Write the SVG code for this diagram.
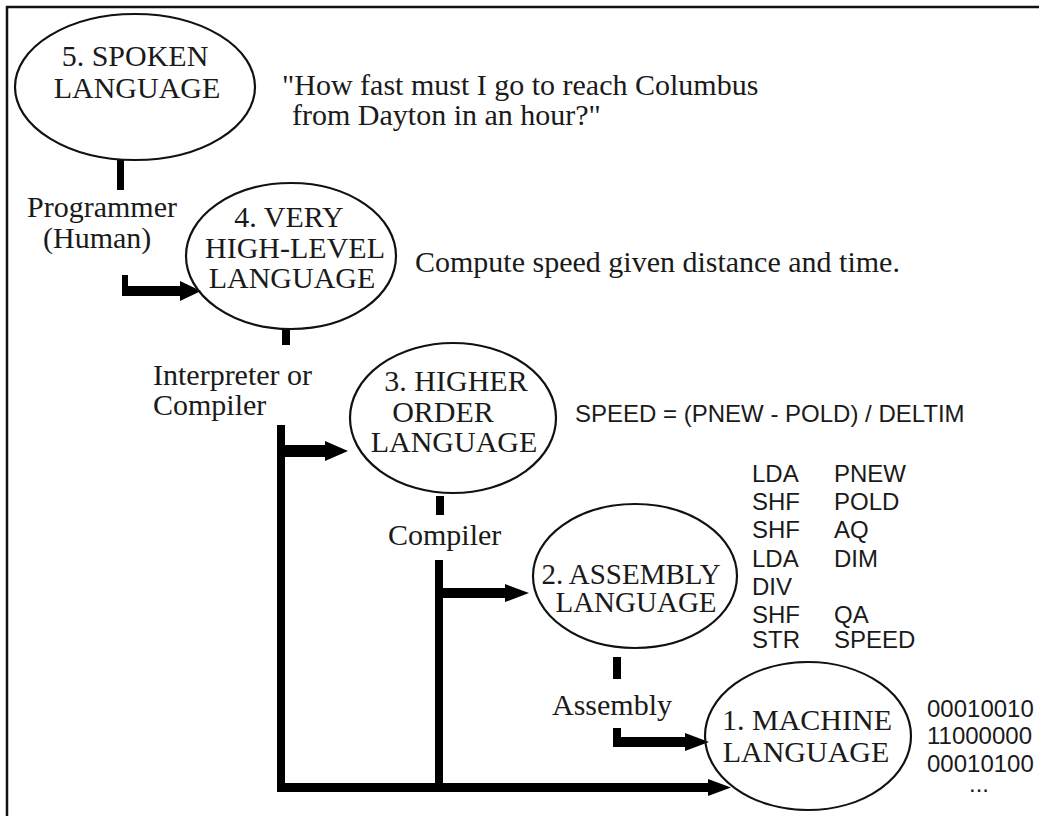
<svg xmlns="http://www.w3.org/2000/svg" width="1039" height="816" viewBox="0 0 1039 816">
<style>
  .ell { fill: none; stroke: #111; stroke-width: 2.2; }
  .lbl { font-family: "Liberation Serif", "Times New Roman", serif; font-size: 30px; fill: #1a1a1a; }
  .mid { text-anchor: middle; }
  .code { font-family: "Liberation Sans", Arial, sans-serif; font-size: 24px; fill: #1a1a1a; }
  .bar { fill: #000; }
</style>
<rect x="0" y="0" width="1039" height="816" fill="#fff"/>
<path d="M7,816 V7 H1039" fill="none" stroke="#111" stroke-width="2.5"/>

<g id="connectors">
  <rect class="bar" x="117" y="159" width="7" height="31"/>
  <rect class="bar" x="122" y="275" width="6" height="16"/>
  <rect class="bar" x="122" y="286" width="60" height="10"/>
  <polygon class="bar" points="180,281 201,291 180,301"/>
  <rect class="bar" x="282" y="329" width="8" height="16"/>
  <rect class="bar" x="277" y="425" width="8" height="367"/>
  <rect class="bar" x="285" y="445" width="42" height="12"/>
  <polygon class="bar" points="325,441 348,451 325,461"/>
  <rect class="bar" x="436" y="496" width="8" height="19"/>
  <rect class="bar" x="435" y="560" width="8" height="232"/>
  <rect class="bar" x="443" y="588" width="64" height="10"/>
  <polygon class="bar" points="505,584 529,593 505,602"/>
  <rect class="bar" x="613" y="657" width="8" height="22"/>
  <rect class="bar" x="613" y="728" width="8" height="19"/>
  <rect class="bar" x="613" y="737" width="74" height="10"/>
  <polygon class="bar" points="685,733 709,742 685,751"/>
  <rect class="bar" x="277" y="783" width="433" height="9"/>
  <polygon class="bar" points="708,779 731,787.5 708,796"/>
</g>

<g id="node5">
  <ellipse class="ell" cx="135" cy="87" rx="120" ry="73"/>
  <text class="lbl mid" x="135" y="66">5. SPOKEN</text>
  <text class="lbl mid" x="137" y="98">LANGUAGE</text>
</g>
<g id="quote">
  <text class="lbl" x="282" y="95">"How fast must I go to reach Columbus</text>
  <text class="lbl" x="292" y="125">from Dayton in an hour?"</text>
</g>
<g id="programmer">
  <text class="lbl" x="27" y="217">Programmer</text>
  <text class="lbl" x="43" y="248">(Human)</text>
</g>
<g id="node4">
  <ellipse class="ell" cx="291" cy="256" rx="105" ry="73"/>
  <text class="lbl mid" x="289" y="227">4. VERY</text>
  <text class="lbl mid" x="295" y="258">HIGH-LEVEL</text>
  <text class="lbl mid" x="292" y="288">LANGUAGE</text>
</g>
<g id="desc4">
  <text class="lbl" x="415" y="272">Compute speed given distance and time.</text>
</g>
<g id="interp">
  <text class="lbl" x="153" y="385">Interpreter or</text>
  <text class="lbl" x="153" y="415">Compiler</text>
</g>
<g id="node3">
  <ellipse class="ell" cx="453" cy="418" rx="103" ry="75"/>
  <text class="lbl mid" x="456" y="391">3. HIGHER</text>
  <text class="lbl mid" x="443" y="422">ORDER</text>
  <text class="lbl mid" x="454" y="452">LANGUAGE</text>
</g>
<g id="desc3">
  <text class="code" x="575" y="422">SPEED = (PNEW - POLD) / DELTIM</text>
</g>
<g id="compiler">
  <text class="lbl" x="388" y="545">Compiler</text>
</g>
<g id="node2">
  <ellipse class="ell" cx="635" cy="576" rx="102" ry="72"/>
  <text class="lbl mid" x="631" y="584" style="font-size:29px">2. ASSEMBLY</text>
  <text class="lbl mid" x="636" y="612" style="font-size:29px">LANGUAGE</text>
</g>
<g id="desc2">
  <text class="code" x="752" y="482">LDA</text><text class="code" x="834" y="482">PNEW</text>
  <text class="code" x="752" y="510">SHF</text><text class="code" x="834" y="510">POLD</text>
  <text class="code" x="752" y="538">SHF</text><text class="code" x="834" y="538">AQ</text>
  <text class="code" x="752" y="567">LDA</text><text class="code" x="834" y="567">DIM</text>
  <text class="code" x="752" y="595">DIV</text>
  <text class="code" x="752" y="623">SHF</text><text class="code" x="834" y="623">QA</text>
  <text class="code" x="752" y="648">STR</text><text class="code" x="834" y="648">SPEED</text>
</g>
<g id="assembly">
  <text class="lbl" x="552" y="715">Assembly</text>
</g>
<g id="node1">
  <ellipse class="ell" cx="808" cy="736" rx="103" ry="74"/>
  <text class="lbl mid" x="807" y="730">1. MACHINE</text>
  <text class="lbl mid" x="806" y="762">LANGUAGE</text>
</g>
<g id="desc1">
  <text class="code" x="927" y="717">00010010</text>
  <text class="code" x="927" y="744">11000000</text>
  <text class="code" x="927" y="772">00010100</text>
  <text class="code" x="969" y="792">...</text>
</g>
</svg>
